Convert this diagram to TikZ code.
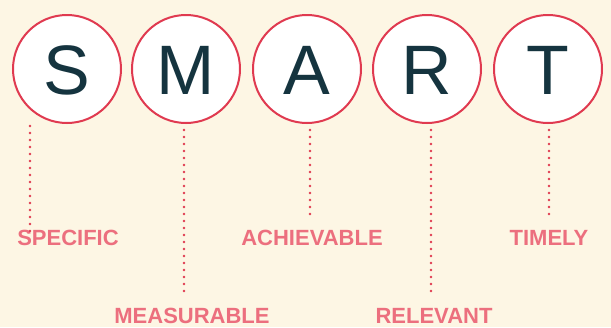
\documentclass[tikz,border=0pt]{standalone}
\usepackage{fontspec}
\setmainfont{Liberation Sans}
\definecolor{cream}{HTML}{FDF6E4}
\definecolor{ringred}{HTML}{E03A50}
\definecolor{letterblue}{HTML}{15343F}
\definecolor{labelpink}{HTML}{EC6F7E}
\tikzset{
  letter/.style={circle, draw=ringred, fill=white, line width=2pt, minimum size=108pt, inner sep=0pt,
    text=letterblue, font=\fontsize{70}{70}\selectfont, text height=50pt, text depth=0pt},
  word/.style={anchor=base, inner sep=0pt, text=labelpink, font=\fontsize{22}{22}\selectfont\bfseries},
  dots/.style={ringred, line width=2.6pt, line cap=round, dash pattern=on 0pt off 7pt}
}
\begin{document}
\begin{tikzpicture}[x=1pt, y=-1pt]
    \fill[cream] (0,0) rectangle (611,327);
    \useasboundingbox (0,0) rectangle (611,327);
    % the five letters
    \node [letter] (s) at (67,69) {S};
    \node [letter] (m) at (186,69) {M};
    \node [letter] (a) at (307,69) {A};
    \node [letter] (r) at (427,69) {R};
    \node [letter] (t) at (548,69) {T};
    % the words
    \node [word] (specific) at (68,245) {SPECIFIC};
    \node [word] (measurable) at (192,323.5) {MEASURABLE};
    \node [word] (achievable) at (312,245) {ACHIEVABLE};
    \node [word] (relevant) at (434,323.5) {RELEVANT};
    \node [word] (timely) at (549,245) {TIMELY};
    % dotted leaders
    \coordinate (s top) at (30,126);  \coordinate (s end) at (30,234);
    \coordinate (m top) at (184,130); \coordinate (m end) at (184,294);
    \coordinate (a top) at (310,130); \coordinate (a end) at (310,217);
    \coordinate (r top) at (431,130); \coordinate (r end) at (431,294);
    \coordinate (t top) at (549,130); \coordinate (t end) at (549,217);
    \draw [dots] (s top) -- (s end);
    \draw [dots] (m top) -- (m end);
    \draw [dots] (a top) -- (a end);
    \draw [dots] (r top) -- (r end);
    \draw [dots] (t top) -- (t end);
\end{tikzpicture}
\end{document}
